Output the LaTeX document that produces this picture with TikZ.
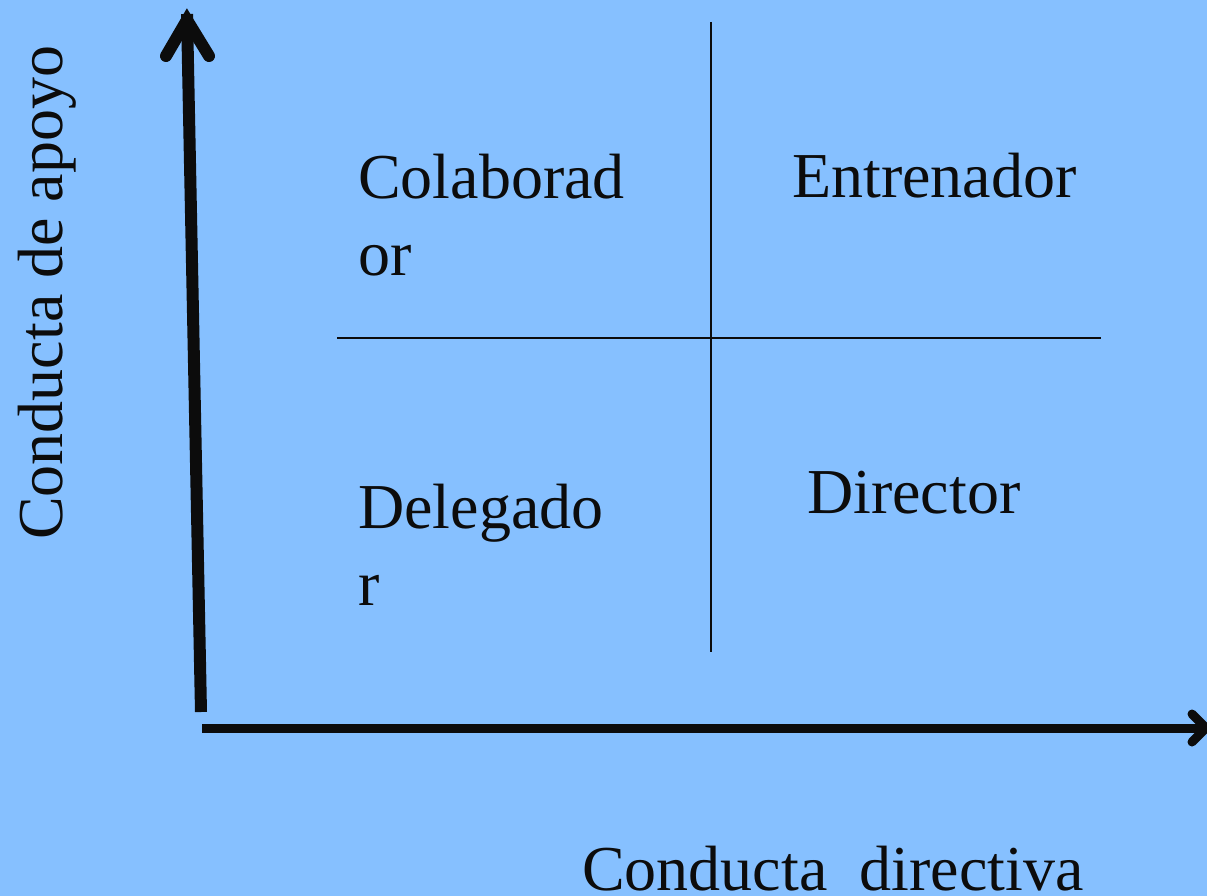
\documentclass[tikz,border=0pt]{standalone}
\usepackage{fontspec}
\setmainfont{Liberation Serif}
\newfontfamily\timesface{Liberation Serif}
\definecolor{bgblue}{RGB}{134,192,255}
\definecolor{ink}{RGB}{12,12,12}
\begin{document}
\begin{tikzpicture}[x=1pt,y=-1pt,
  txtlabel/.style={anchor=base west,inner sep=0pt,align=left,text=ink,font=\timesface\fontsize{64}{77}\selectfont},
  axis/.style={draw=ink,line cap=butt},
  tipline/.style={draw=ink,line cap=round,line join=miter},
  divider/.style={draw=ink,line width=1.8pt}]
\fill[bgblue] (0,0) rectangle (1207,896);
\useasboundingbox (0,0) rectangle (1207,896);
% axes
\coordinate (ybot) at (201,712);
\coordinate (ytop) at (187,14);
\coordinate (yl) at (166,56);
\coordinate (yr) at (209,56);
\coordinate (xl) at (202,728);
\coordinate (xr) at (1203,728);
\coordinate (xu) at (1192,714);
\coordinate (xd) at (1192,742);
\draw[axis,line width=12pt] (ybot) -- (ytop);
\draw[tipline,line width=12pt] (yl) -- (187,20) -- (yr);
\draw[axis,line width=9pt] (xl) -- (xr);
\draw[tipline,line width=9pt,line join=round] (xu) -- (1206,728) -- (xd);
% quadrant dividers
\coordinate (vt) at (711,22);
\coordinate (vb) at (711,652);
\coordinate (hl) at (337,338);
\coordinate (hr) at (1101,338);
\draw[divider] (vt) -- (vb);
\draw[divider] (hl) -- (hr);
% labels (base anchor of a two-line node is the last line's baseline)
\node[txtlabel] (colab) at (358,275) {Colaborad\\or};
\node[txtlabel] (entr) at (792,197) {Entrenador};
\node[txtlabel] (deleg) at (358,605) {Delegado\\r};
\node[txtlabel] (dir) at (807,513) {Director};
\node[txtlabel] (xlab) at (582,890) {Conducta\ \ directiva};
\node[txtlabel,rotate=90] (ylab) at (62,540) {Conducta de apoyo};
\end{tikzpicture}
\end{document}
